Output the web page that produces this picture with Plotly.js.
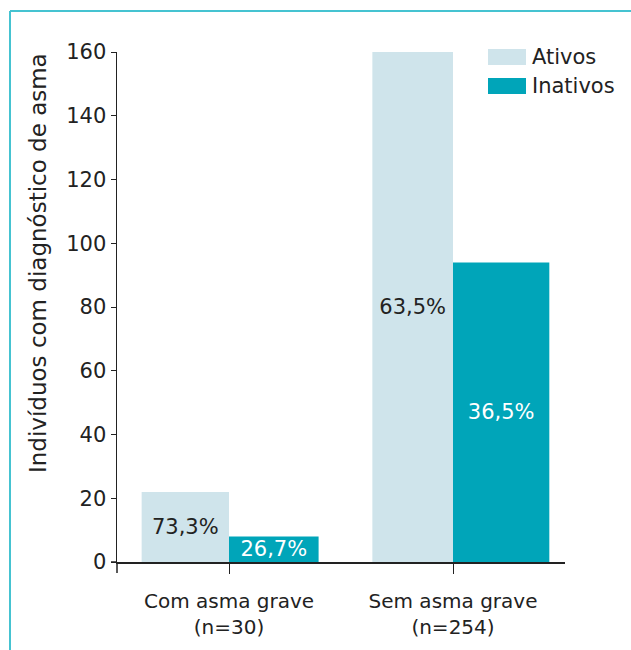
<!DOCTYPE html>
<html><head><meta charset="utf-8">
<script src="https://cdn.plot.ly/plotly-3.0.1.min.js"></script>
<style>body{margin:0;padding:0;background:#fff}#chart{width:631px;height:650px}</style>
</head><body><div id="chart"></div>
<script>
const categories = ['Com asma grave<br>(n=30)', 'Sem asma grave<br>(n=254)'];
const seriesNames = ['Ativos', 'Inativos'];
const ativos = [22, 160];
const inativos = [8, 94];
const ativosText = ['73,3%', '63,5%'];
const inativosText = ['26,7%', '36,5%'];
const yTitle = 'Indivíduos com diagnóstico de asma';

const W = 631, H = 650;
const mL = 117, mR = 66, mT = 52, mB = 88;
const pw = W - mL - mR, ph = H - mT - mB;
const px = x => (x - mL) / pw;
const py = y => (H - mB - y) / ph;

const FONT = 'DejaVu Sans, Noto Sans, sans-serif';
const FS = 21;
const TXT = '#222222';
const cA = '#cfe4eb', cI = '#00a5b9', border = '#45c3d1';

const traces = [
  {type: 'bar', name: seriesNames[0], x: categories, y: ativos, text: ativosText,
   width: [0.39, 0.36], offset: [-0.39, -0.36],
   marker: {color: cA}, textposition: 'inside', insidetextanchor: 'middle',
   constraintext: 'none', textfont: {family: FONT, size: FS, color: TXT},
   hoverinfo: 'y', showlegend: false},
  {type: 'bar', name: seriesNames[1], x: categories, y: inativos, text: inativosText,
   width: [0.40, 0.43], offset: [0, 0],
   marker: {color: cI}, textposition: 'inside', insidetextanchor: 'middle',
   constraintext: 'none', textfont: {family: FONT, size: FS, color: '#ffffff'},
   hoverinfo: 'y', showlegend: false}
];

const layout = {
  width: W, height: H,
  margin: {l: mL, r: mR, t: mT, b: mB, pad: 0},
  paper_bgcolor: '#fff', plot_bgcolor: '#fff',
  font: {family: FONT, size: FS, color: TXT},
  barmode: 'group',
  showlegend: false,
  xaxis: {range: [-0.5, 1.5], showline: true, linecolor: TXT, linewidth: 1.5,
    ticks: 'outside', ticklen: 10, tickcolor: TXT, showgrid: false, zeroline: false,
    ticklabelstandoff: 10,
    tickfont: {family: FONT, size: 20, color: TXT}, fixedrange: true},
  yaxis: {range: [0, 160], tickvals: [0,20,40,60,80,100,120,140,160], showline: true,
    linecolor: TXT, linewidth: 1.5, ticks: 'outside', ticklen: 5, tickcolor: TXT,
    showgrid: false, zeroline: false, tickfont: {family: FONT, size: FS, color: TXT},
    fixedrange: true},
  shapes: [
    {type: 'line', xref: 'paper', yref: 'paper', x0: px(10), x1: px(10), y0: py(11), y1: py(H), line: {color: border, width: 2}},
    {type: 'line', xref: 'paper', yref: 'paper', x0: px(10), x1: px(W), y0: py(11), y1: py(11), line: {color: border, width: 2}},
    {type: 'line', xref: 'paper', yref: 'paper', x0: 0, x1: 0, y0: 0, y1: py(573), line: {color: TXT, width: 1.5}},
    {type: 'line', xref: 'paper', yref: 'paper', x0: px(111), x1: 0, y0: 0, y1: 0, line: {color: TXT, width: 1.5}},
    {type: 'rect', xref: 'paper', yref: 'paper', x0: px(488), x1: px(526), y0: py(49), y1: py(65), fillcolor: cA, line: {width: 0}},
    {type: 'rect', xref: 'paper', yref: 'paper', x0: px(488), x1: px(526), y0: py(78), y1: py(94), fillcolor: cI, line: {width: 0}}
  ],
  annotations: [
    {text: yTitle, xref: 'paper', yref: 'paper', x: px(38), y: py(263), textangle: -90,
     showarrow: false, font: {family: FONT, size: 23, color: TXT}, xanchor: 'center', yanchor: 'middle'},
    {text: seriesNames[0], xref: 'paper', yref: 'paper', x: px(530), y: py(57), showarrow: false,
     xanchor: 'left', yanchor: 'middle', font: {family: FONT, size: FS, color: TXT}},
    {text: seriesNames[1], xref: 'paper', yref: 'paper', x: px(530), y: py(86), showarrow: false,
     xanchor: 'left', yanchor: 'middle', font: {family: FONT, size: FS, color: TXT}}
  ]
};

Plotly.newPlot('chart', traces, layout, {displayModeBar: false, staticPlot: true});
</script></body></html>
